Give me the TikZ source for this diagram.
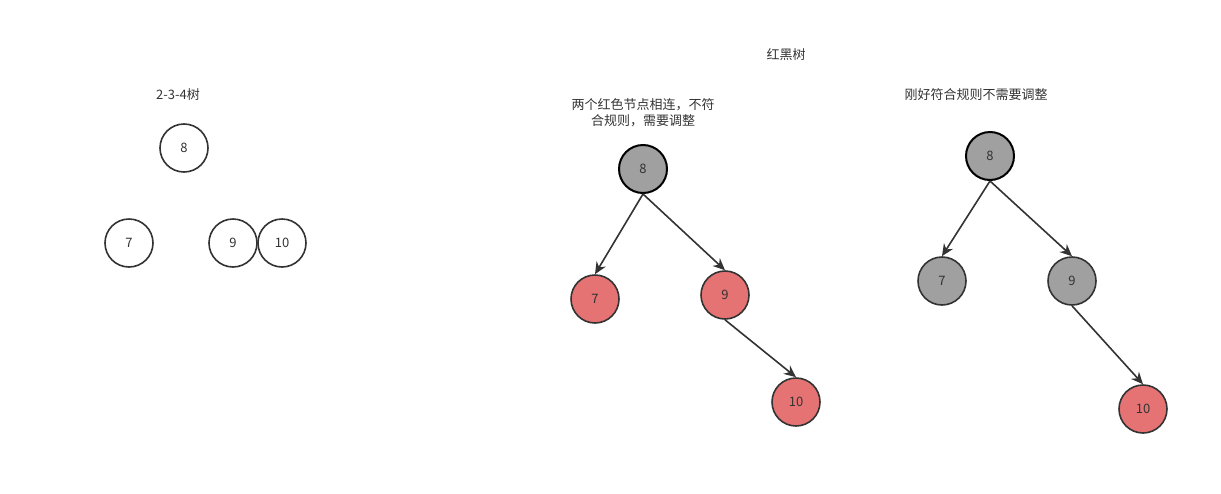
\documentclass[tikz,border=0pt]{standalone}
\usepackage{fontspec}
\setmainfont{Noto Sans CJK SC}
\usetikzlibrary{arrows.meta}
\definecolor{txtgray}{RGB}{51,51,51}
\definecolor{nodegray}{RGB}{160,160,160}
\definecolor{nodered}{RGB}{229,115,115}

\begin{document}
\begin{tikzpicture}[x=0.75pt,y=0.75pt,yscale=-1,xscale=1,
  every node/.style={text=txtgray,font=\fontsize{9.75}{12}\selectfont},
  keynode/.style={circle,draw=txtgray,line width=1.2pt,minimum size=36pt,inner sep=0pt},
  rootnode/.style={keynode,draw=black,line width=1.5pt,fill=nodegray},
  blacknode/.style={keynode,fill=nodegray},
  rednode/.style={keynode,fill=nodered},
  link/.style={draw=txtgray,line width=1.2pt,-{Stealth[length=9pt,width=8pt]}}]

\useasboundingbox (0,0) rectangle (1221,493);

% 2-3-4 tree
\node (t234) at (178,95) {2-3-4树};
\node [keynode] (a8) at (184,148) {8};
\node [keynode] (a7) at (129,243) {7};
\node [keynode] (a9) at (233,243) {9};
\node [keynode] (a10) at (282,243) {10};

% Text Node
\node (trb) at (786,55) {红黑树};
% Text Node
\node [align=center] (bad) at (643,113) {两个红色节点相连，不符\\合规则，需要调整};
% Text Node
\node (good) at (976,95) {刚好符合规则不需要调整};

% red-black tree, before
\node [rootnode] (b8) at (643,169) {8};
\node [rednode] (b7) at (595,299) {7};
\node [rednode] (b9) at (725,295) {9};
\node [rednode] (b10) at (796,402) {10};
\draw [link] (b8.south) -- (b7.north);
\draw [link] (b8.south) -- (b9.north);
\draw [link] (b9.south) -- (b10.north);

% red-black tree, after
\node [rootnode] (c8) at (990,156) {8};
\node [blacknode] (c7) at (942,281) {7};
\node [blacknode] (c9) at (1072,281) {9};
\node [rednode] (c10) at (1143,409) {10};
\draw [link] (c8.south) -- (c7.north);
\draw [link] (c8.south) -- (c9.north);
\draw [link] (c9.south) -- (c10.north);

\end{tikzpicture}
\end{document}
